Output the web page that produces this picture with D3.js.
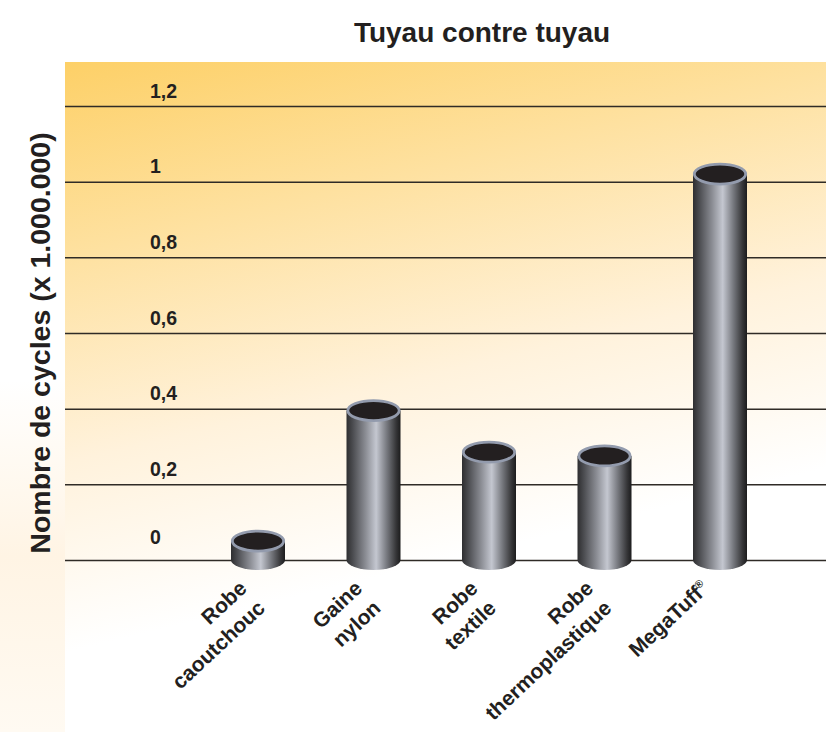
<!DOCTYPE html>
<html>
<head>
<meta charset="utf-8">
<script src="https://cdn.jsdelivr.net/npm/d3@7"></script>
<style>
  body { margin: 0; background: #fff; }
  svg { display: block; font-family: "Liberation Sans", Arial, sans-serif; }
</style>
</head>
<body>
<svg id="chart" width="826" height="732"></svg>
<script>
// data
const categories = [
  ['Robe', 'caoutchouc'],
  ['Gaine', 'nylon'],
  ['Robe', 'textile'],
  ['Robe', 'thermoplastique'],
  ['MegaTuff']
];
const cycles = [0.05, 0.395, 0.285, 0.275, 1.02];
const tickValues = [0, 0.2, 0.4, 0.6, 0.8, 1, 1.2];
const tickLabels = ['0', '0,2', '0,4', '0,6', '0,8', '1', '1,2'];

const width = 826;
const plot = { left: 65, top: 62, right: 826, bottom: 705 };
const rx = 27, ry = 10;

const svg = d3.select('#chart');
const defs = svg.append('defs');

// background gradient
const bg = defs.append('linearGradient')
  .attr('id', 'bg')
  .attr('gradientUnits', 'userSpaceOnUse')
  .attr('x1', 65).attr('y1', 62)
  .attr('x2', 200).attr('y2', 620);
bg.selectAll('stop')
  .data([[0, '#fdd067'], [0.33, '#fee1a0'], [0.68, '#fff2dc'], [1, '#ffffff']])
  .enter().append('stop')
  .attr('offset', d => d[0])
  .attr('stop-color', d => d[1]);

// faint glow on the left edge
const glow = defs.append('linearGradient')
  .attr('id', 'glow')
  .attr('x1', 0).attr('y1', 0).attr('x2', 0).attr('y2', 1);
glow.selectAll('stop')
  .data([[0, '#ffffff'], [0.5, '#fff4e4'], [1, '#fffaf2']])
  .enter().append('stop')
  .attr('offset', d => d[0])
  .attr('stop-color', d => d[1]);

// metal tube shading
const metal = defs.append('linearGradient')
  .attr('id', 'metal')
  .attr('x1', 0).attr('y1', 0).attr('x2', 1).attr('y2', 0);
metal.selectAll('stop')
  .data([[0, '#2e2e30'], [0.12, '#4c4d51'], [0.35, '#8a8c93'], [0.55, '#c4c7d0'],
         [0.75, '#75777d'], [0.92, '#353537'], [1, '#1c1c1d']])
  .enter().append('stop')
  .attr('offset', d => d[0])
  .attr('stop-color', d => d[1]);

svg.append('rect')
  .attr('x', 0).attr('y', 380)
  .attr('width', plot.left).attr('height', 352)
  .attr('fill', 'url(#glow)');

svg.append('rect')
  .attr('x', plot.left).attr('y', plot.top)
  .attr('width', plot.right - plot.left)
  .attr('height', plot.bottom - plot.top)
  .attr('fill', 'url(#bg)');

// scales
const y = d3.scaleLinear().domain([0, 1.2]).range([560, 106]);
const x = d3.scalePoint()
  .domain(d3.range(categories.length))
  .range([258, 720]);

// gridlines + tick labels
const axis = svg.append('g')
  .attr('transform', `translate(${plot.left},0)`)
  .call(d3.axisRight(y)
    .tickValues(tickValues)
    .tickSize(plot.right - plot.left)
    .tickFormat((d, i) => tickLabels[i]));
axis.select('.domain').remove();
axis.selectAll('line')
  .attr('stroke', '#2f2b26')
  .attr('stroke-width', 1.5);
axis.selectAll('text')
  .attr('x', 85)
  .attr('dy', d => d === 0 ? -17 : -9)
  .attr('text-anchor', 'start')
  .attr('fill', '#231f20')
  .style('font-size', '19.5px')
  .style('font-weight', 'bold')
  .style('font-family', '"Liberation Sans", Arial, sans-serif');

// cylinders
const bars = svg.append('g')
  .selectAll('g')
  .data(cycles)
  .enter().append('g')
  .attr('transform', (d, i) => `translate(${x(i)},0)`);

bars.append('path')
  .attr('d', d => {
    const top = y(d), bot = y(0);
    return `M${-rx},${top} L${-rx},${bot} A${rx},${ry} 0 0 0 ${rx},${bot} L${rx},${top} Z`;
  })
  .attr('fill', 'url(#metal)');

bars.append('ellipse')
  .attr('cx', 0)
  .attr('cy', d => y(d))
  .attr('rx', rx - 1.3)
  .attr('ry', ry)
  .attr('fill', '#231f20')
  .attr('stroke', '#939bad')
  .attr('stroke-width', 2.8);

// x labels
const labels = svg.append('g')
  .selectAll('text')
  .data(categories)
  .enter().append('text')
  .attr('transform', (d, i) => `translate(${x(i) - 10},590) rotate(-43)`)
  .attr('text-anchor', 'end')
  .attr('fill', '#231f20')
  .style('font-size', '21px')
  .style('font-weight', 'bold');

labels.each(function(lines, i) {
  const t = d3.select(this);
  lines.forEach((line, j) => {
    const ts = t.append('tspan')
      .attr('x', j === 0 ? 0 : 0)
      .attr('dy', j === 0 ? 0 : 27)
      .text(line);
    if (i === categories.length - 1) {
      t.append('tspan')
        .attr('dy', -8)
        .style('font-size', '11px')
        .text('®');
    }
  });
});

// title
svg.append('text')
  .attr('x', 482)
  .attr('y', 42)
  .attr('text-anchor', 'middle')
  .attr('fill', '#231f20')
  .style('font-size', '28px')
  .style('font-weight', 'bold')
  .text('Tuyau contre tuyau');

// y axis title
svg.append('text')
  .attr('transform', 'translate(50,343) rotate(-90)')
  .attr('text-anchor', 'middle')
  .attr('fill', '#231f20')
  .style('font-size', '28.5px')
  .style('font-weight', 'bold')
  .text('Nombre de cycles (x 1.000.000)');
</script>
</body>
</html>
